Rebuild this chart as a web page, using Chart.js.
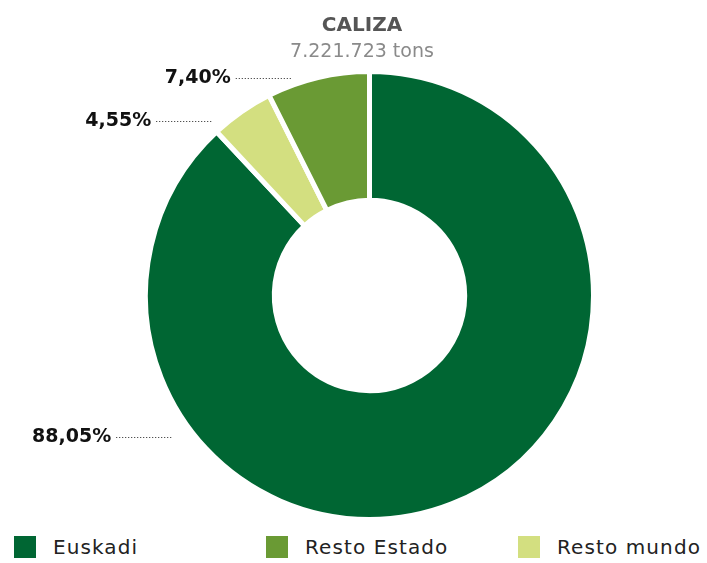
<!DOCTYPE html>
<html>
<head>
<meta charset="utf-8">
<script src="https://cdn.jsdelivr.net/npm/chart.js@4"></script>
<style>
  html, body { margin: 0; padding: 0; background: #fff; }
  body { width: 707px; height: 563px; overflow: hidden; font-family: "DejaVu Sans", sans-serif; }
  #wrap { position: relative; width: 707px; height: 530px; }
  #legend { display: flex; padding-left: 14px; height: 33px; align-items: center; }
  .item { display: flex; align-items: center; width: 252px; font-size: 20px; color: #222; letter-spacing: 1.1px; }
  .item:last-child { width: auto; }
  .box { width: 22px; height: 22px; margin-right: 17px; flex: none; }
</style>
</head>
<body>
<div id="wrap"><canvas id="chart"></canvas></div>
<div id="legend"></div>
<script>
const title = "CALIZA";
const subtitle = "7.221.723 tons";

// orden del anillo (sentido horario desde arriba)
const labels = ["Euskadi", "Resto mundo", "Resto Estado"];
const values = [88.05, 4.55, 7.40];
const colors = ["#006633", "#d3df80", "#6a9a34"];

// orden de la leyenda
const legendOrder = ["Euskadi", "Resto Estado", "Resto mundo"];

// dónde termina cada línea de etiqueta: ángulo (grados desde arriba) y distancia fuera del anillo
const labelAngles = [234.2, 318.1, 340.6];
const labelOffsets = [18, 10, 7];

const fmt = (v) => v.toFixed(2).replace(".", ",") + "%";

const labelPlugin = {
  id: "labelPlugin",
  afterDraw(chart) {
    const ctx = chart.ctx;
    const meta = chart.getDatasetMeta(0);

    // título
    ctx.save();
    ctx.textAlign = "center";
    ctx.textBaseline = "alphabetic";
    ctx.fillStyle = "#555555";
    ctx.font = "bold 20px 'DejaVu Sans'";
    ctx.fillText(title, 362, 31);
    ctx.fillStyle = "#8a8a8a";
    ctx.font = "19px 'DejaVu Sans'";
    ctx.fillText(subtitle, 362, 57);
    ctx.restore();

    // etiquetas con línea punteada
    meta.data.forEach((arc, i) => {
      const a = (labelAngles[i] * Math.PI) / 180;
      const r = arc.outerRadius + labelOffsets[i];
      const x2 = arc.x + r * Math.sin(a);
      const y2 = arc.y - r * Math.cos(a);
      const x1 = x2 - 57;
      ctx.save();
      ctx.strokeStyle = "#222";
      ctx.lineWidth = 1;
      ctx.setLineDash([1, 2]);
      ctx.beginPath();
      ctx.moveTo(x1, Math.round(y2) + 0.5);
      ctx.lineTo(x2, Math.round(y2) + 0.5);
      ctx.stroke();
      ctx.setLineDash([]);
      ctx.fillStyle = "#111";
      ctx.font = "bold 19px 'DejaVu Sans'";
      ctx.textAlign = "right";
      ctx.textBaseline = "middle";
      ctx.fillText(fmt(values[i]), x1 - 5, y2);
      ctx.restore();
    });
  },
};

new Chart(document.getElementById("chart"), {
  type: "doughnut",
  data: {
    labels: labels,
    datasets: [
      {
        data: values,
        backgroundColor: colors,
        borderColor: "#ffffff",
        borderWidth: 5,
        hoverOffset: 0,
      },
    ],
  },
  options: {
    responsive: true,
    maintainAspectRatio: false,
    animation: false,
    cutout: "42.5%",
    layout: { padding: { top: 69, bottom: 8, left: 32, right: 0 } },
    plugins: {
      legend: { display: false },
      tooltip: { enabled: false },
    },
  },
  plugins: [labelPlugin],
});

// leyenda
const legend = document.getElementById("legend");
legendOrder.forEach((name) => {
  const idx = labels.indexOf(name);
  const item = document.createElement("div");
  item.className = "item";
  const box = document.createElement("span");
  box.className = "box";
  box.style.background = colors[idx];
  const txt = document.createElement("span");
  txt.textContent = name;
  item.appendChild(box);
  item.appendChild(txt);
  legend.appendChild(item);
});
</script>
</body>
</html>
